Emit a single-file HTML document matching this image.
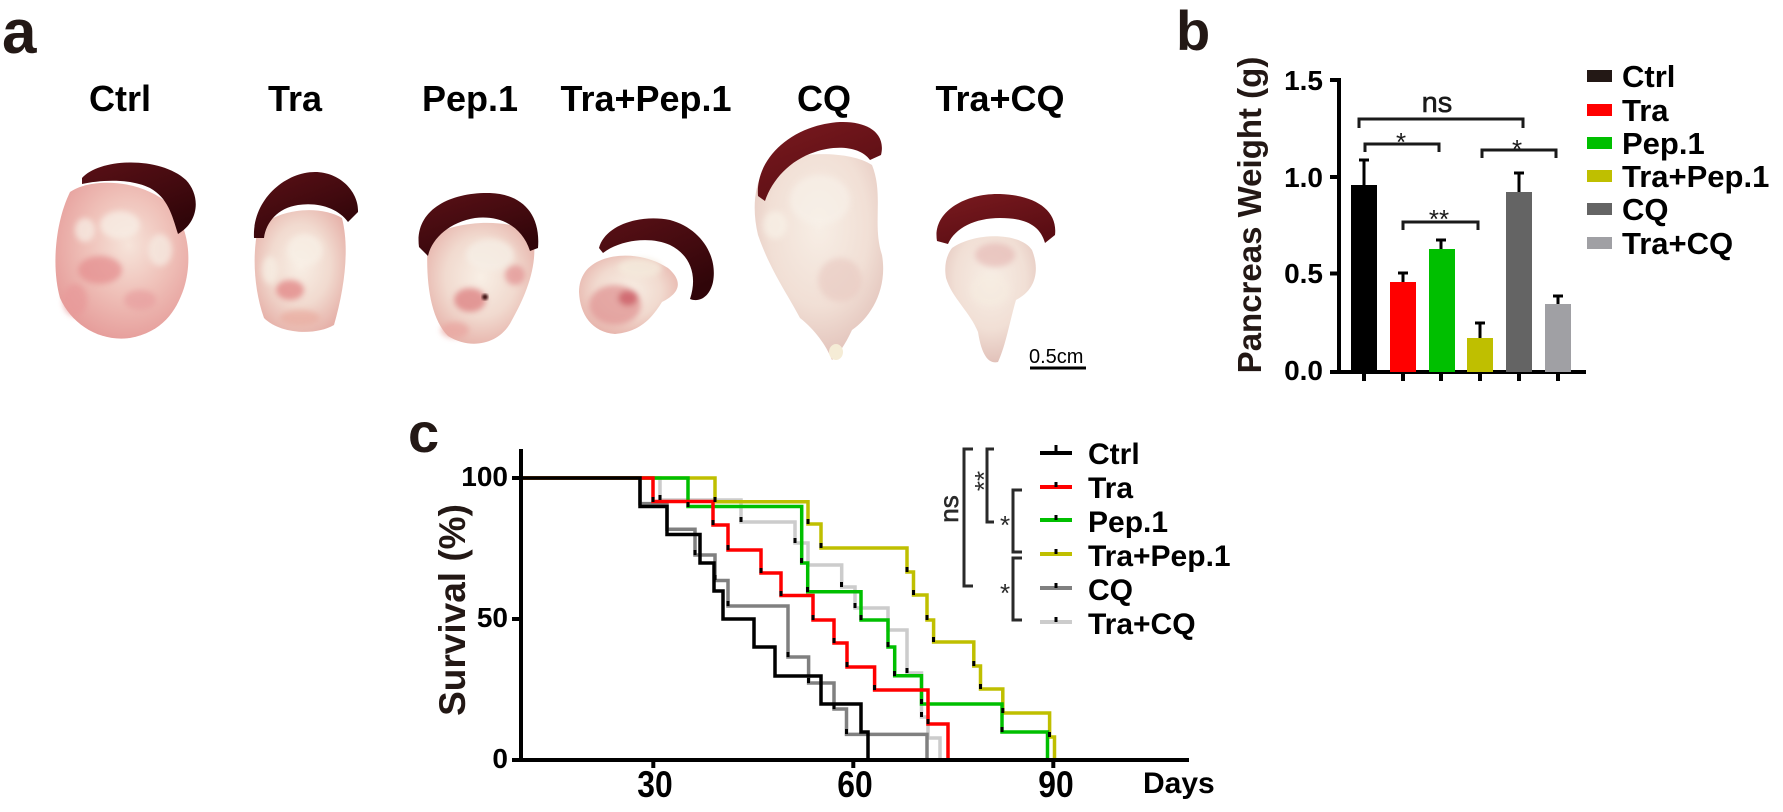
<!DOCTYPE html>
<html>
<head>
<meta charset="utf-8">
<style>
html,body{margin:0;padding:0;background:#fff;}
svg{display:block;font-family:"Liberation Sans",Arial,sans-serif;}
</style>
</head>
<body>
<svg width="1783" height="812" viewBox="0 0 1783 812" xmlns="http://www.w3.org/2000/svg">
<defs>
  <radialGradient id="tis" cx="50%" cy="45%" r="60%">
    <stop offset="0" stop-color="#f8efe5"/>
    <stop offset="0.55" stop-color="#f1dacf"/>
    <stop offset="1" stop-color="#e6b0a8"/>
  </radialGradient>
  <radialGradient id="tisPink" cx="55%" cy="40%" r="65%">
    <stop offset="0" stop-color="#f6e4da"/>
    <stop offset="0.5" stop-color="#efc0b8"/>
    <stop offset="1" stop-color="#e59a98"/>
  </radialGradient>
  <radialGradient id="tisPale" cx="50%" cy="35%" r="65%">
    <stop offset="0" stop-color="#f7eee5"/>
    <stop offset="0.6" stop-color="#f1dfd5"/>
    <stop offset="1" stop-color="#e2c2ba"/>
  </radialGradient>
  <linearGradient id="spl" x1="0" y1="0" x2="0.6" y2="1">
    <stop offset="0" stop-color="#5a1016"/>
    <stop offset="0.6" stop-color="#420a0f"/>
    <stop offset="1" stop-color="#300509"/>
  </linearGradient>
  <linearGradient id="splRed" x1="0" y1="0" x2="0.6" y2="1">
    <stop offset="0" stop-color="#7a1a1f"/>
    <stop offset="1" stop-color="#5a0d13"/>
  </linearGradient>
  <filter id="blur3"><feGaussianBlur stdDeviation="3"/></filter>
  <filter id="blur1"><feGaussianBlur stdDeviation="1.2"/></filter>
</defs>

<!-- ================= Panel a ================= -->
<text x="2" y="53" font-size="62" font-weight="bold" fill="#231815">a</text>
<g font-size="36" font-weight="bold" fill="#000" text-anchor="middle">
  <text x="120" y="111">Ctrl</text>
  <text x="295" y="111">Tra</text>
  <text x="470" y="111">Pep.1</text>
  <text x="646" y="111">Tra+Pep.1</text>
  <text x="824" y="111">CQ</text>
  <text x="1000" y="111">Tra+CQ</text>
</g>

<!-- Ctrl organ -->
<path d="M70,192 C90,178 140,178 170,205 C190,228 192,262 184,288 C176,312 162,332 130,338 C100,342 72,325 60,298 C52,270 54,225 70,192 Z" fill="url(#tisPink)"/>
<g filter="url(#blur3)" opacity="0.75">
  <ellipse cx="100" cy="270" rx="22" ry="14" fill="#e58f90"/>
  <ellipse cx="140" cy="300" rx="16" ry="10" fill="#e8a0a0"/>
  <ellipse cx="120" cy="225" rx="20" ry="14" fill="#f8efe6"/>
  <ellipse cx="75" cy="300" rx="12" ry="16" fill="#e89a9a"/>
  <ellipse cx="160" cy="250" rx="12" ry="16" fill="#f6ebe2"/>
  <ellipse cx="85" cy="230" rx="10" ry="12" fill="#f7ede4"/>
</g>
<path d="M82,178 C100,158 160,156 186,180 C201,196 199,222 178,234 C172,215 168,198 150,188 C130,178 100,180 82,184 Z" fill="url(#spl)"/>

<!-- Tra organ -->
<path d="M258,228 C280,208 320,205 342,218 C350,250 344,290 334,325 C315,336 280,334 264,318 C254,290 252,255 258,228 Z" fill="url(#tis)"/>
<g filter="url(#blur3)" opacity="0.75">
  <ellipse cx="290" cy="290" rx="14" ry="10" fill="#e28484"/>
  <ellipse cx="305" cy="250" rx="18" ry="16" fill="#f8f0e6"/>
  <ellipse cx="300" cy="318" rx="20" ry="8" fill="#eaaea2"/>
  <ellipse cx="270" cy="270" rx="8" ry="14" fill="#f7efe4"/>
</g>
<path d="M254,238 C252,200 285,172 315,172 C340,172 359,192 358,212 L348,222 C338,208 318,202 298,205 C278,208 266,222 264,238 Z" fill="url(#spl)"/>

<!-- Pep.1 organ -->
<path d="M428,238 C455,220 505,218 532,232 C540,262 526,295 512,320 C500,345 470,350 448,336 C430,318 425,280 428,238 Z" fill="url(#tis)"/>
<g filter="url(#blur3)" opacity="0.75">
  <ellipse cx="470" cy="300" rx="16" ry="12" fill="#dd7f80"/>
  <ellipse cx="490" cy="255" rx="24" ry="16" fill="#f6efe6"/>
  <ellipse cx="455" cy="330" rx="14" ry="8" fill="#e9a6a0"/>
  <ellipse cx="515" cy="275" rx="10" ry="10" fill="#e39494"/>
</g>
<circle cx="485" cy="297" r="3" fill="#3a0a0d" filter="url(#blur1)"/>
<path d="M419,247 C414,210 450,192 490,193 C520,194 541,212 538,248 L530,251 C522,226 500,215 475,218 C450,222 432,238 428,256 Z" fill="url(#spl)"/>

<!-- Tra+Pep.1 organ -->
<path d="M585,272 C600,252 640,250 668,268 C682,280 682,292 662,302 C652,318 640,332 615,334 C592,332 580,315 579,292 C579,284 581,278 585,272 Z" fill="url(#tis)"/>
<g filter="url(#blur3)" opacity="0.8">
  <ellipse cx="615" cy="305" rx="26" ry="20" fill="#e29a98"/>
  <ellipse cx="628" cy="298" rx="10" ry="8" fill="#c9505a"/>
  <ellipse cx="640" cy="268" rx="22" ry="10" fill="#f4eadc"/>
</g>
<path d="M599,248 C605,225 640,214 670,220 C700,228 718,255 713,282 C710,296 700,303 690,299 C698,275 690,255 670,245 C650,236 620,240 603,253 Z" fill="url(#spl)"/>

<!-- CQ organ -->
<path d="M765,168 C790,150 850,150 872,165 C884,195 872,225 882,255 C888,290 870,318 852,330 C845,345 838,355 832,360 C826,345 815,330 800,318 C788,295 770,270 758,235 C752,210 754,185 765,168 Z" fill="url(#tisPale)"/>
<g filter="url(#blur3)" opacity="0.6">
  <ellipse cx="820" cy="200" rx="30" ry="25" fill="#f8f2ea"/>
  <ellipse cx="840" cy="280" rx="22" ry="22" fill="#e8c8c0"/>
  <ellipse cx="775" cy="225" rx="12" ry="14" fill="#f9f4ea"/>
</g>
<ellipse cx="836" cy="352" rx="7" ry="8" fill="#f5ecd6"/>
<path d="M758,196 C755,160 790,125 840,122 C870,121 886,135 881,155 L870,160 C860,146 835,145 815,152 C790,160 772,180 765,201 Z" fill="url(#splRed)"/>

<!-- Tra+CQ organ -->
<path d="M952,248 C975,232 1020,232 1032,250 C1040,270 1036,290 1016,300 C1010,320 1006,345 998,362 C990,364 982,358 978,332 C970,312 952,298 946,278 C944,266 946,256 952,248 Z" fill="url(#tisPale)"/>
<g filter="url(#blur3)" opacity="0.6">
  <ellipse cx="995" cy="255" rx="20" ry="12" fill="#e4b4b0"/>
  <ellipse cx="990" cy="290" rx="20" ry="16" fill="#f6ece0"/>
</g>
<path d="M937,241 C932,212 965,193 1000,194 C1035,195 1058,210 1055,235 L1045,243 C1040,225 1025,218 1000,218 C975,218 955,228 948,244 Z" fill="url(#splRed)"/>

<!-- scale bar -->
<text x="1029" y="363" font-size="20" fill="#000">0.5cm</text>
<line x1="1030" y1="368" x2="1086" y2="368" stroke="#000" stroke-width="3"/>

<!-- ================= Panel b ================= -->
<text x="1176" y="50" font-size="56" font-weight="bold" fill="#231815">b</text>
<text transform="translate(1261,215) rotate(-90)" text-anchor="middle" font-size="33" font-weight="bold" fill="#231815">Pancreas Weight (g)</text>
<g font-size="28" font-weight="bold" fill="#000" text-anchor="end">
  <text x="1323" y="90">1.5</text>
  <text x="1323" y="187">1.0</text>
  <text x="1323" y="283">0.5</text>
  <text x="1323" y="380">0.0</text>
</g>
<g stroke="#000" stroke-width="4" fill="none">
  <line x1="1339" y1="78" x2="1339" y2="374"/>
  <line x1="1330" y1="80" x2="1339" y2="80"/>
  <line x1="1330" y1="177" x2="1339" y2="177"/>
  <line x1="1330" y1="273.5" x2="1339" y2="273.5"/>
  <line x1="1330" y1="372" x2="1586" y2="372"/>
  <line x1="1364" y1="372" x2="1364" y2="381"/>
  <line x1="1403" y1="372" x2="1403" y2="381"/>
  <line x1="1441" y1="372" x2="1441" y2="381"/>
  <line x1="1480" y1="372" x2="1480" y2="381"/>
  <line x1="1519" y1="372" x2="1519" y2="381"/>
  <line x1="1558" y1="372" x2="1558" y2="381"/>
</g>
<!-- bars -->
<rect x="1351" y="185" width="26" height="187" fill="#000"/>
<rect x="1390" y="282" width="26" height="90" fill="#ff0000"/>
<rect x="1429" y="249" width="26" height="123" fill="#00bf00"/>
<rect x="1467" y="338" width="26" height="34" fill="#bfbf00"/>
<rect x="1506" y="192" width="26" height="180" fill="#646464"/>
<rect x="1545" y="304" width="26" height="68" fill="#a0a0a4"/>
<!-- error bars -->
<g stroke="#000" stroke-width="3">
  <line x1="1364" y1="185" x2="1364" y2="159"/><line x1="1359" y1="160" x2="1369" y2="160"/>
  <line x1="1403" y1="282" x2="1403" y2="272"/><line x1="1398" y1="273" x2="1408" y2="273"/>
  <line x1="1441" y1="249" x2="1441" y2="239"/><line x1="1436" y1="240" x2="1446" y2="240"/>
  <line x1="1480" y1="338" x2="1480" y2="322"/><line x1="1475" y1="323" x2="1485" y2="323"/>
  <line x1="1519" y1="192" x2="1519" y2="172"/><line x1="1514" y1="173" x2="1524" y2="173"/>
  <line x1="1558" y1="304" x2="1558" y2="295"/><line x1="1553" y1="296" x2="1563" y2="296"/>
</g>
<!-- significance brackets -->
<g stroke="#1a1a1a" stroke-width="3" fill="none">
  <path d="M1359,128 V119 H1523 V128"/>
  <path d="M1365,152 V144 H1439 V152"/>
  <path d="M1482,158 V150 H1556 V158"/>
  <path d="M1403,230 V222 H1478 V230"/>
</g>
<g fill="#1a1a1a" text-anchor="middle">
  <text x="1437" y="112" font-size="29" stroke="#1a1a1a" stroke-width="0.6">ns</text>
  <text x="1401" y="151" font-size="26">*</text>
  <text x="1517" y="158" font-size="26">*</text>
  <text x="1439" y="228" font-size="26">**</text>
</g>
<!-- legend b -->
<rect x="1587" y="70" width="25" height="12" fill="#231815"/>
<rect x="1587" y="104" width="25" height="12" fill="#ff0000"/>
<rect x="1587" y="137" width="25" height="12" fill="#00bf00"/>
<rect x="1587" y="170" width="25" height="12" fill="#bfbf00"/>
<rect x="1587" y="203" width="25" height="12" fill="#646464"/>
<rect x="1587" y="237" width="25" height="12" fill="#a0a0a4"/>
<g font-size="31" font-weight="bold" fill="#000">
  <text x="1622" y="87">Ctrl</text>
  <text x="1622" y="121">Tra</text>
  <text x="1622" y="154">Pep.1</text>
  <text x="1622" y="187">Tra+Pep.1</text>
  <text x="1622" y="220">CQ</text>
  <text x="1622" y="254">Tra+CQ</text>
</g>

<!-- ================= Panel c ================= -->
<text x="408" y="452" font-size="56" font-weight="bold" fill="#231815">c</text>
<text transform="translate(465,610) rotate(-90)" text-anchor="middle" font-size="37" font-weight="bold" fill="#231815">Survival (%)</text>
<g font-size="28" font-weight="bold" fill="#000" text-anchor="end">
  <text x="508" y="486">100</text>
  <text x="508" y="627">50</text>
  <text x="508" y="768">0</text>
</g>
<g font-size="37" font-weight="bold" fill="#000" text-anchor="middle">
  <text transform="translate(655,797) scale(0.86,1)">30</text>
  <text transform="translate(855,797) scale(0.86,1)">60</text>
  <text transform="translate(1056,797) scale(0.86,1)">90</text>
</g>
<text x="1143" y="793" font-size="30" font-weight="bold" fill="#000">Days</text>

<!-- curves -->
<g fill="none" stroke-width="3.5" stroke-linejoin="miter" stroke-linecap="butt">
  <path stroke="#cccccc" d="M521,478 H660 V500 H741 V522 H795 V543 H808 V565 H841.7 V587 H855 V608 H888 V630 H907 V673 H921.5 V717 H928 V738 H940 V760"/>
  <path stroke="#808080" d="M521,478 H640 V503.6 H667 V529.3 H695 V555 H715 V580.5 H728 V606 H788 V657 H808.6 V683 H834 V709 H846.5 V734.4 H927 V760"/>
  <path stroke="#bfbf00" d="M521,478 H715 V501.7 H808 V524 H821 V548 H907 V572 H913.5 V595 H927 V620 H933.6 V642 H973.8 V666 H980.5 V689 H1002.8 V713 H1049.6 V737 H1054.5 V760"/>
  <path stroke="#00bf00" d="M521,478 H688 V506.5 H801.7 V563 H807.7 V591.7 H861 V620 H888 V647 H894.7 V675.7 H921.5 V704 H1002 V732 H1047.5 V760"/>
  <path stroke="#ff0000" d="M521,478 H653 V501.5 H713 V525 H728 V550 H761 V573 H781 V595.5 H813 V620 H834 V643 H847 V667 H874.6 V690 H928 V724 H948 V760"/>
  <path stroke="#000000" d="M521,478 H640 V506.5 H667 V534.5 H700 V563 H714 V591 H723 V619 H754 V647 H775 V676 H821 V704 H861 V732 H868 V760"/>
</g>
<!-- event marks -->
<g fill="#000">
  <rect x="651.5" y="497" width="3" height="5"/><rect x="711.5" y="520" width="3" height="5"/><rect x="726.5" y="545" width="3" height="5"/>
  <rect x="759.5" y="568" width="3" height="5"/><rect x="779.5" y="591" width="3" height="5"/><rect x="811.5" y="615" width="3" height="5"/>
  <rect x="832.5" y="638" width="3" height="5"/><rect x="845.5" y="662" width="3" height="5"/><rect x="873" y="685" width="3" height="5"/>
  <rect x="926.5" y="719" width="3" height="5"/>
  <rect x="686.5" y="502" width="3" height="5"/><rect x="800" y="558" width="3" height="5"/><rect x="806" y="587" width="3" height="5"/>
  <rect x="859.5" y="615" width="3" height="5"/><rect x="886.5" y="642" width="3" height="5"/><rect x="893" y="671" width="3" height="5"/>
  <rect x="920" y="699" width="3" height="5"/><rect x="1000.5" y="727" width="3" height="5"/>
  <rect x="713.5" y="497" width="3" height="5"/><rect x="806.5" y="519" width="3" height="5"/><rect x="819.5" y="543" width="3" height="5"/>
  <rect x="905.5" y="567" width="3" height="5"/><rect x="912" y="590" width="3" height="5"/><rect x="925.5" y="615" width="3" height="5"/>
  <rect x="932" y="637" width="3" height="5"/><rect x="972.3" y="661" width="3" height="5"/><rect x="979" y="684" width="3" height="5"/>
  <rect x="1001.3" y="708" width="3" height="5"/><rect x="1048" y="732" width="3" height="5"/>
  <rect x="693.5" y="550" width="3" height="5"/><rect x="713.5" y="575" width="3" height="5"/><rect x="726.5" y="601" width="3" height="5"/>
  <rect x="786.5" y="652" width="3" height="5"/><rect x="807" y="678" width="3" height="5"/><rect x="832.5" y="704" width="3" height="5"/>
  <rect x="845" y="729" width="3" height="5"/>
  <rect x="658.5" y="495" width="3" height="5"/><rect x="739.5" y="517" width="3" height="5"/><rect x="793.5" y="538" width="3" height="5"/>
  <rect x="840" y="582" width="3" height="5"/><rect x="853.5" y="603" width="3" height="5"/><rect x="905.5" y="668" width="3" height="5"/>
  <rect x="920" y="712" width="3" height="5"/>
</g>

<!-- axes c -->
<g stroke="#000" stroke-width="4" fill="none">
  <line x1="521" y1="449" x2="521" y2="762"/>
  <line x1="512" y1="478" x2="521" y2="478"/>
  <line x1="512" y1="619" x2="521" y2="619"/>
  <line x1="512" y1="760" x2="521" y2="760"/>
  <line x1="514" y1="760" x2="1189" y2="760"/>
  <line x1="653.3" y1="760" x2="653.3" y2="768"/>
  <line x1="853.3" y1="760" x2="853.3" y2="768"/>
  <line x1="1053.3" y1="760" x2="1053.3" y2="768"/>
</g>

<!-- legend c -->
<g stroke-width="4">
  <line x1="1040" y1="453" x2="1072" y2="453" stroke="#000"/>
  <line x1="1040" y1="487" x2="1072" y2="487" stroke="#ff0000"/>
  <line x1="1040" y1="520" x2="1072" y2="520" stroke="#00bf00"/>
  <line x1="1040" y1="554" x2="1072" y2="554" stroke="#bfbf00"/>
  <line x1="1040" y1="588" x2="1072" y2="588" stroke="#808080"/>
  <line x1="1040" y1="622" x2="1072" y2="622" stroke="#cccccc"/>
</g>
<g fill="#000">
  <rect x="1054.5" y="445" width="3" height="8"/>
  <rect x="1054.5" y="482" width="3" height="5"/>
  <rect x="1054.5" y="515" width="3" height="5"/>
  <rect x="1054.5" y="549" width="3" height="5"/>
  <rect x="1054.5" y="583" width="3" height="5"/>
  <rect x="1054.5" y="617" width="3" height="5"/>
</g>
<g font-size="30" font-weight="bold" fill="#000">
  <text x="1088" y="464">Ctrl</text>
  <text x="1088" y="498">Tra</text>
  <text x="1088" y="532">Pep.1</text>
  <text x="1088" y="566">Tra+Pep.1</text>
  <text x="1088" y="600">CQ</text>
  <text x="1088" y="634">Tra+CQ</text>
</g>
<!-- brackets c -->
<g stroke="#2a2a2a" stroke-width="3" fill="none">
  <path d="M973,449 H964 V586 H973"/>
  <path d="M994,449 H987 V522 H994"/>
  <path d="M1022,490 H1013 V552 H1022"/>
  <path d="M1022,558 H1013 V620 H1022"/>
</g>
<g fill="#2a2a2a" font-size="26">
  <text transform="translate(958,509) rotate(-90)" text-anchor="middle" stroke="#2a2a2a" stroke-width="0.6">ns</text>
  <text transform="translate(993,481) rotate(-90)" text-anchor="middle">**</text>
  <text x="1005" y="534" text-anchor="middle">*</text>
  <text x="1005" y="602" text-anchor="middle">*</text>
</g>
</svg>
</body>
</html>
